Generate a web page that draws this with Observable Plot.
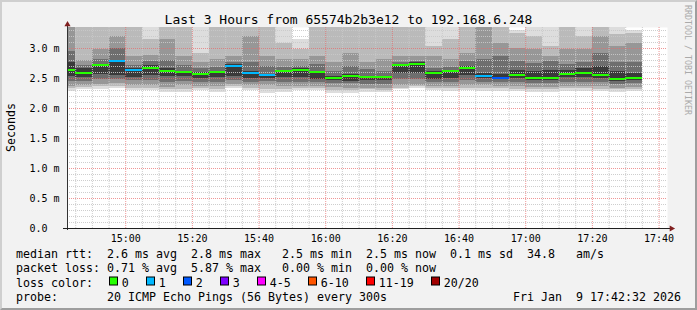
<!DOCTYPE html>
<html><head><meta charset="utf-8">
<script src="https://cdn.jsdelivr.net/npm/d3@7"></script>
<script src="https://cdn.jsdelivr.net/npm/@observablehq/plot@0.6"></script>
<style>
html,body{margin:0;padding:0;background:#f2f2f2;}
#chart{position:relative;width:697px;height:310px;background:#f2f2f2;overflow:hidden;}
#chart svg{position:absolute;left:0;top:0;}
#frame{position:absolute;left:0;top:0;width:697px;height:310px;box-sizing:border-box;border:2px solid;border-color:#cfcfcf #9e9e9e #9e9e9e #cfcfcf;pointer-events:none;}
</style></head><body>
<div id="chart"></div>
<script>
// ---------- data ----------
const title = "Last 3 Hours from 65574b2b3e12 to 192.168.6.248";
const yAxisLabel = "Seconds";
const watermark = "RRDTOOL / TOBI OETIKER";
const rangeStart = "2026-01-09T14:42:32Z";
const rangeEnd = "2026-01-09T17:42:32Z";
const stepSeconds = 300;
const stepEnds = ["14:45","14:50","14:55","15:00","15:05","15:10","15:15","15:20","15:25","15:30","15:35","15:40",
  "15:45","15:50","15:55","16:00","16:05","16:10","16:15","16:20","16:25","16:30","16:35","16:40",
  "16:45","16:50","16:55","17:00","17:05","17:10","17:15","17:20","17:25","17:30","17:35"];
// median rtt in ms
const medians = [2.633,2.583,2.717,2.783,2.633,2.667,2.617,2.600,2.567,2.600,2.695,2.583,
  2.550,2.617,2.633,2.600,2.500,2.533,2.510,2.510,2.717,2.740,2.583,2.617,
  2.667,2.533,2.506,2.550,2.495,2.495,2.560,2.583,2.545,2.478,2.500];
// lost pings out of 20
const lossCounts = [0,0,0,1,1,0,0,0,0,0,1,1,1,0,0,0,0,0,0,0,0,0,0,0,0,1,2,0,0,0,0,0,0,0,0];
// smoke: sorted ping ranks below the median (p1,p3,p5,p7,p9), ms
const smokeLow = [
  [2.29,2.33,2.37,2.45,2.53],[2.32,2.35,2.39,2.45,2.51],[2.32,2.36,2.40,2.48,2.57],[2.33,2.36,2.41,2.48,2.55],
  [2.30,2.34,2.39,2.46,2.52],[2.30,2.34,2.39,2.47,2.55],[2.26,2.31,2.35,2.43,2.53],[2.27,2.32,2.38,2.45,2.53],
  [2.30,2.34,2.37,2.44,2.50],[2.27,2.32,2.37,2.44,2.51],[2.33,2.36,2.40,2.46,2.53],[2.30,2.34,2.38,2.44,2.50],
  [2.25,2.32,2.38,2.45,2.50],[2.27,2.32,2.37,2.44,2.51],[2.30,2.33,2.37,2.44,2.52],[2.30,2.34,2.37,2.43,2.48],
  [2.25,2.30,2.35,2.42,2.46],[2.25,2.30,2.34,2.41,2.45],[2.27,2.31,2.34,2.40,2.46],[2.27,2.30,2.34,2.40,2.46],
  [2.31,2.34,2.39,2.48,2.58],[2.33,2.36,2.39,2.48,2.58],[2.30,2.33,2.37,2.43,2.48],[2.29,2.33,2.37,2.44,2.50],
  [2.30,2.34,2.38,2.46,2.55],[2.29,2.33,2.38,2.44,2.50],[2.29,2.33,2.37,2.43,2.48],[2.28,2.32,2.36,2.43,2.50],
  [2.27,2.31,2.35,2.41,2.46],[2.27,2.31,2.35,2.41,2.46],[2.29,2.33,2.37,2.44,2.51],[2.29,2.33,2.37,2.44,2.52],
  [2.28,2.32,2.36,2.43,2.50],[2.27,2.31,2.34,2.40,2.45],[2.28,2.32,2.35,2.41,2.46]];
// smoke: sorted ping ranks above the median (p12,p14,p16,p18,p20), ms
const smokeHigh = [
  [2.76,2.95,3.50,3.70,3.90],[2.66,2.72,2.80,3.60,3.90],[2.74,2.82,2.98,3.60,3.90],[2.80,3.00,3.20,3.60,3.90],
  [2.66,2.72,2.86,3.60,3.90],[2.72,2.78,2.88,3.15,3.90],[2.66,2.80,3.15,3.60,3.90],[2.62,2.72,2.87,3.40,3.90],
  [2.60,2.67,2.76,2.92,3.90],[2.62,2.68,2.81,3.40,3.90],[2.73,2.77,2.87,3.40,3.90],[2.61,2.76,3.20,3.60,3.90],
  [2.57,2.70,2.87,3.40,3.90],[2.64,2.68,2.81,3.09,3.90],[2.66,2.70,2.81,2.98,3.15],[2.62,2.74,2.87,3.40,3.90],
  [2.53,2.62,2.76,3.40,3.90],[2.56,2.70,2.92,3.40,3.90],[2.54,2.65,2.76,3.40,3.90],[2.54,2.62,2.81,3.40,3.90],
  [2.74,2.77,2.87,3.40,3.90],[2.76,2.79,2.87,3.40,3.90],[2.62,2.67,2.87,3.03,3.90],[2.64,2.68,2.81,3.15,3.90],
  [2.70,2.78,2.92,3.40,3.90],[2.59,2.81,3.40,3.60,3.90],[2.56,2.86,3.09,3.60,3.90],[2.64,2.78,3.00,3.25,3.30],
  [2.62,2.75,2.98,3.20,3.45],[2.64,2.78,2.87,3.03,3.45],[2.64,2.73,2.98,3.40,3.90],[2.67,2.76,2.98,3.20,3.50],
  [2.70,2.92,3.20,3.60,3.90],[2.62,2.76,3.03,3.23,3.45],[2.59,2.76,3.09,3.25,3.30]];
const yMax = 3.35;
const yTickValues = [0, 0.5, 1.0, 1.5, 2.0, 2.5, 3.0];
const yTickLabels = ["0.0","0.5 m","1.0 m","1.5 m","2.0 m","2.5 m","3.0 m"];
const lossGroupLabels = ["0","1","2","3","4-5","6-10","11-19","20/20"];
const lossGroupMax = [0,1,2,3,5,10,19,20];
const lossColors = ["#26ff00","#00b8ff","#0059ff","#7e00ff","#ff00ff","#ff5500","#ff0000","#a10000"];
const smokeColors = ["#dddddd","#bababa","#979797","#6e6e6e","#3a3a3a"];
const legendRtt = "median rtt:  2.6 ms avg  2.8 ms max   2.5 ms min  2.5 ms now  0.1 ms sd  34.8   am/s";
const legendLoss = "packet loss: 0.71 % avg  5.87 % max   0.00 % min  0.00 % now";
const legendLossTitle = "loss color:";
const legendProbe = "probe:       20 ICMP Echo Pings (56 Bytes) every 300s";
const legendDate = "Fri Jan  9 17:42:32 2026";

// ---------- build ----------
const W = 697, H = 310;
const M = {top: 27, right: 30, bottom: 82, left: 67};
const FONT = "'DejaVu Sans Mono', monospace";
const x0 = new Date(rangeStart), x1 = new Date(rangeEnd);
const day = rangeStart.slice(0, 10);
const columns = stepEnds.map((e, i) => {
  const t1 = new Date(`${day}T${e}:00Z`);
  const t0 = new Date(+t1 - stepSeconds * 1000);
  return {t0: t0 < x0 ? x0 : t0, t1, median: medians[i], loss: lossCounts[i], low: smokeLow[i], high: smokeHigh[i]};
});
const bands = [];
columns.forEach(c => c.low.forEach((lo, k) => bands.push({t0: c.t0, t1: c.t1, lo, hi: c.high[c.high.length - 1 - k], k})));
const lossColor = n => lossColors[lossGroupMax.findIndex(m => n <= m)];
const sw = yMax / (H - M.top - M.bottom); // one pixel in data units

const yMinor = d3.range(1, Math.floor(yMax * 10) + 1).map(i => i / 10).filter(v => Math.abs(v * 2 - Math.round(v * 2)) > 1e-9);
const yMajor = yTickValues.filter(v => v > 0);
const xAll = d3.utcMinute.every(5).range(x0, x1);
const xMajor = xAll.filter(d => d.getUTCMinutes() % 20 === 0);
const xMinor = xAll.filter(d => d.getUTCMinutes() % 20 !== 0);

const plot = Plot.plot({
  width: W, height: H,
  marginTop: M.top, marginRight: M.right, marginBottom: M.bottom, marginLeft: M.left,
  style: {background: "transparent", fontFamily: FONT, fontSize: "10px", color: "#000", overflow: "visible"},
  x: {type: "utc", domain: [x0, x1]},
  y: {domain: [0, yMax]},
  color: {type: "identity"},
  marks: [
    Plot.frame({fill: "#ffffff", stroke: "none"}),
    Plot.rect(bands, {x1: "t0", x2: "t1", y1: "lo", y2: d => Math.min(d.hi, yMax), fill: d => smokeColors[d.k], shapeRendering: "crispEdges"}),
    Plot.ruleY(yMinor, {stroke: "#c9c9c9", strokeDasharray: "1,1", strokeOpacity: 0.9}),
    Plot.ruleX(xMinor, {stroke: "#c9c9c9", strokeDasharray: "1,1", strokeOpacity: 0.9}),
    Plot.ruleY(yMajor, {stroke: "#e86a6a", strokeDasharray: "1,1", strokeOpacity: 0.7}),
    Plot.ruleX(xMajor, {stroke: "#e86a6a", strokeDasharray: "1,1", strokeOpacity: 0.7}),
    Plot.rect(columns, {x1: "t0", x2: "t1", y1: d => d.median - sw, y2: d => d.median + sw, fill: d => lossColor(d.loss), shapeRendering: "crispEdges"}),
    Plot.ruleX([x0], {stroke: "#333", insetTop: -5, insetBottom: -2}),
    Plot.ruleY([0], {stroke: "#1f1f1f", insetLeft: -4, insetRight: -3}),
    Plot.dot([[x0, yMax]], {x: d => d[0], y: d => d[1], symbol: "triangle", r: 2.3, fill: "#801f1f", stroke: "none", dy: -3}),
    Plot.dot([[x1, 0]], {x: d => d[0], y: d => d[1], symbol: "triangle", rotate: 90, r: 2.3, fill: "#801f1f", stroke: "none", dx: 4}),
    Plot.axisX({ticks: xMajor, tickFormat: d3.utcFormat("%H:%M"), tickSize: 0, tickPadding: 6, label: null, fontSize: 10}),
    Plot.axisY({ticks: yTickValues, tickFormat: d => yTickLabels[yTickValues.indexOf(d)], tickSize: 0, tickPadding: 38, textAnchor: "start", label: null, fontSize: 10})
  ]
});
const chart = document.getElementById("chart");
chart.appendChild(plot);

// text overlay
const svg = d3.select(chart).append("svg").attr("width", W).attr("height", H)
  .style("font-family", FONT).attr("fill", "#000");
svg.append("text").attr("x", W / 2).attr("y", 24).attr("text-anchor", "middle").attr("font-size", 13).text(title);
svg.append("text").attr("transform", `translate(15.3,${(M.top + H - M.bottom) / 2}) rotate(-90)`)
  .attr("text-anchor", "middle").attr("font-size", 11.63).text(yAxisLabel);
svg.append("text").attr("transform", "translate(685,5) rotate(90)").attr("font-size", 8.3).attr("fill", "#aaaaaa").text(watermark);

const FS = 11.63, CW = 7, LX = 16;
const base = [257.6, 272, 286.5, 301];
const line = (s, x, y) => svg.append("text").attr("x", x).attr("y", y).attr("font-size", FS).style("white-space", "pre").text(s);
line(legendRtt, LX, base[0]);
line(legendLoss, LX, base[1]);
line(legendLossTitle, LX, base[2]);
line(legendProbe, LX, base[3]);
line(legendDate, 513, base[3]);
let bx = 108.7;
lossGroupLabels.forEach((lab, i) => {
  svg.append("rect").attr("x", Math.round(bx) + 0.5).attr("y", base[2] - 9.5).attr("width", 8).attr("height", 8)
    .attr("fill", lossColors[i]).attr("stroke", "#000").attr("stroke-width", 1);
  line(lab, bx + 13, base[2]);
  bx += 13 + lab.length * CW + 17;
});

const frame = document.createElement("div");
frame.id = "frame";
chart.appendChild(frame);
</script>
</body></html>
